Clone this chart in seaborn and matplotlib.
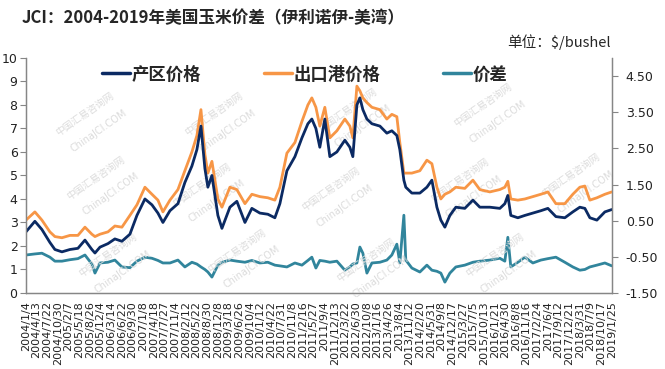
import matplotlib
matplotlib.use('Agg')
import matplotlib.pyplot as plt
import numpy as np
import pandas as pd
import seaborn as sns

# Values ($/bushel)
dates = [
    '2004-01-04', '2004-03-28', '2004-06-02', '2004-08-16', '2004-10-02', '2004-12-07',
    '2005-02-20', '2005-05-06', '2005-07-11', '2005-09-14', '2005-10-13', '2005-11-29',
    '2006-02-12', '2006-04-18', '2006-06-23', '2006-09-06', '2006-11-11', '2007-01-25',
    '2007-04-01', '2007-05-27', '2007-07-13', '2007-09-17', '2007-12-01', '2008-02-04',
    '2008-04-10', '2008-05-27', '2008-07-04', '2008-08-10', '2008-09-07', '2008-10-15',
    '2008-12-10', '2009-01-17', '2009-04-02', '2009-06-06', '2009-08-21', '2009-10-25',
    '2010-01-08', '2010-03-24', '2010-05-29', '2010-07-15', '2010-09-19', '2010-12-03',
    '2011-02-07', '2011-04-04', '2011-05-11', '2011-06-18', '2011-07-25', '2011-09-10',
    '2011-10-27', '2012-01-01', '2012-03-16', '2012-05-02', '2012-05-30', '2012-07-07',
    '2012-08-04', '2012-09-01', '2012-10-09', '2012-11-25', '2013-02-08', '2013-04-14',
    '2013-05-31', '2013-07-17', '2013-08-14', '2013-09-21', '2013-10-09', '2013-12-05',
    '2014-02-18', '2014-04-25', '2014-06-11', '2014-07-28', '2014-09-03', '2014-10-11',
    '2014-11-27', '2015-01-22', '2015-04-16', '2015-07-01', '2015-09-04', '2015-12-07',
    '2016-03-10', '2016-04-26', '2016-05-24', '2016-06-21', '2016-08-26', '2016-10-31',
    '2017-01-14', '2017-03-30', '2017-06-04', '2017-08-18', '2017-11-10', '2018-01-24',
    '2018-03-31', '2018-05-17', '2018-07-03', '2018-09-07', '2018-11-21', '2019-01-25',
]

origin_price = [
    2.60, 3.05, 2.70, 2.15, 1.85, 1.75, 1.85, 1.90, 2.25, 1.85, 1.70, 1.95,
    2.10, 2.30, 2.20, 2.50, 3.30, 4.00, 3.75, 3.40, 3.00, 3.50, 3.80, 4.70,
    5.40, 6.10, 7.10, 5.30, 4.50, 5.00, 3.30, 2.75, 3.65, 3.90, 3.00, 3.60,
    3.40, 3.35, 3.20, 3.80, 5.20, 5.80, 6.60, 7.20, 7.40, 7.00, 6.20, 7.40,
    5.80, 6.00, 6.50, 6.20, 5.80, 8.00, 8.30, 7.80, 7.40, 7.20, 7.10, 6.80,
    6.90, 6.70, 6.10, 4.80, 4.50, 4.25, 4.25, 4.50, 4.80, 3.65, 3.10, 2.80,
    3.30, 3.65, 3.60, 3.95, 3.65, 3.65, 3.60, 3.80, 4.15, 3.30, 3.20, 3.30,
    3.40, 3.50, 3.60, 3.25, 3.20, 3.45, 3.65, 3.60, 3.20, 3.10, 3.45, 3.55,
]

port_price = [
    3.10, 3.45, 3.10, 2.60, 2.40, 2.35, 2.45, 2.45, 2.80, 2.50, 2.40, 2.50,
    2.60, 2.85, 2.80, 3.30, 3.75, 4.50, 4.20, 3.95, 3.45, 3.95, 4.40, 5.20,
    6.00, 6.70, 7.80, 5.90, 5.10, 5.60, 4.00, 3.65, 4.50, 4.40, 3.80, 4.20,
    4.10, 4.05, 3.95, 4.50, 5.95, 6.40, 7.30, 8.00, 8.30, 7.90, 7.10, 7.90,
    6.60, 6.90, 7.40, 7.10, 6.60, 8.80, 8.60, 8.30, 8.10, 7.90, 7.80, 7.40,
    7.60, 7.50, 6.40, 5.10, 5.10, 5.10, 5.20, 5.65, 5.50, 4.50, 4.00, 4.20,
    4.30, 4.50, 4.45, 4.80, 4.40, 4.30, 4.40, 4.50, 4.75, 4.00, 3.95, 4.00,
    4.10, 4.20, 4.30, 3.80, 3.80, 4.20, 4.50, 4.55, 3.95, 4.05, 4.20, 4.30,
]

spread = [
    -0.45, -0.42, -0.40, -0.51, -0.62, -0.62, -0.58, -0.55, -0.45, -0.70, -0.95, -0.67,
    -0.65, -0.59, -0.78, -0.80, -0.62, -0.51, -0.54, -0.60, -0.67, -0.67, -0.59, -0.78,
    -0.65, -0.70, -0.78, -0.85, -0.92, -1.06, -0.73, -0.65, -0.59, -0.62, -0.65, -0.60,
    -0.67, -0.65, -0.73, -0.75, -0.78, -0.67, -0.73, -0.60, -0.51, -0.81, -0.60, -0.62,
    -0.65, -0.62, -0.87, -0.78, -0.70, -0.67, -0.23, -0.40, -0.95, -0.67, -0.65, -0.59,
    -0.45, -0.15, -0.67, 0.65, -0.59, -0.81, -0.92, -0.73, -0.87, -0.90, -0.95, -1.20,
    -0.95, -0.78, -0.73, -0.65, -0.62, -0.59, -0.54, -0.62, 0.04, -0.78, -0.65, -0.51,
    -0.67, -0.59, -0.55, -0.51, -0.65, -0.78, -0.87, -0.85, -0.78, -0.73, -0.67, -0.75,
]

tick_labels = [
    '2004/1/4', '2004/4/13', '2004/7/22', '2004/10/30', '2005/2/7', '2005/5/18',
    '2005/8/26', '2005/12/4', '2006/3/14', '2006/6/22', '2006/9/30', '2007/1/8',
    '2007/4/18', '2007/7/27', '2007/11/4', '2008/2/12', '2008/5/22', '2008/8/30',
    '2008/12/8', '2009/3/18', '2009/6/26', '2009/10/4', '2010/1/12', '2010/4/22',
    '2010/7/31', '2010/11/8', '2011/2/16', '2011/5/27', '2011/9/4', '2011/12/13',
    '2012/3/22', '2012/6/30', '2012/10/8', '2013/1/16', '2013/4/26', '2013/8/4',
    '2013/11/12', '2014/2/20', '2014/5/31', '2014/9/8', '2014/12/17', '2015/3/27',
    '2015/7/5', '2015/10/13', '2016/1/21', '2016/4/30', '2016/8/8', '2016/11/16',
    '2017/2/24', '2017/6/4', '2017/9/12', '2017/12/21', '2018/3/31', '2018/7/9',
    '2018/10/17', '2019/1/25',
]

series_names = ['产区价格', '出口港价格', '价差']
colors = ['#0b2a63', '#f79646', '#31859c']

df = pd.DataFrame({
    'date': pd.to_datetime(dates),
    'origin': origin_price,
    'port': port_price,
    'spread': spread,
})

sns.set_style('white')
plt.rcParams['font.family'] = ['DejaVu Sans', 'Noto Sans CJK SC']
cjk = ['Noto Sans CJK SC', 'DejaVu Sans']

fig = plt.figure(figsize=(6.65, 3.69), dpi=100)
ax = fig.add_axes([0.039, 0.206, 0.881, 0.637])
ax2 = ax.twinx()

# faint watermark of the source
wm_pos = [(0.10, 0.72), (0.32, 0.72), (0.55, 0.74), (0.78, 0.76),
          (0.12, 0.45), (0.30, 0.42), (0.52, 0.40), (0.74, 0.44), (0.93, 0.46),
          (0.14, 0.12), (0.36, 0.14), (0.58, 0.10), (0.80, 0.12)]
for (wx, wy) in wm_pos:
    ax.text(wx, wy + 0.04, '中国汇易咨询网', transform=ax.transAxes, rotation=35,
            fontsize=7, color='#dcdcdc', family=cjk, ha='center', va='center', zorder=0)
    ax.text(wx + 0.025, wy - 0.03, 'ChinaJCI.COM', transform=ax.transAxes, rotation=35,
            fontsize=7, color='#dcdcdc', ha='center', va='center', zorder=0)

sns.lineplot(data=df, x='date', y='spread', ax=ax2, color=colors[2], linewidth=2.0,
             legend=False)
sns.lineplot(data=df, x='date', y='port', ax=ax, color=colors[1], linewidth=2.0,
             legend=False)
sns.lineplot(data=df, x='date', y='origin', ax=ax, color=colors[0], linewidth=2.0,
             legend=False)

ax.set_zorder(ax2.get_zorder() + 1)
ax.patch.set_visible(False)

ax.set_xlim(pd.Timestamp('2004-01-04'), pd.Timestamp('2019-01-25'))
ax.set_ylim(0, 10)
ax.set_yticks(range(0, 11))
ax2.set_ylim(-1.5, 5.0)
ax2.set_yticks(np.arange(-1.5, 4.6, 1.0))
ax2.set_yticklabels([f'{v:.2f}' for v in np.arange(-1.5, 4.6, 1.0)])

ax.set_xticks(pd.to_datetime(tick_labels, format='%Y/%m/%d'))
ax.set_xticklabels(tick_labels, rotation=90, fontsize=8, va='top', ha='center')
ax.set_xlabel('')
ax.set_ylabel('')
ax2.set_ylabel('')

for a in (ax, ax2):
    a.spines['top'].set_visible(False)
    for s in ('left', 'right', 'bottom'):
        a.spines[s].set_color('#868686')
        a.spines[s].set_linewidth(0.9)
    a.grid(False)
ax.tick_params(axis='y', direction='out', length=4, color='#868686', labelsize=9,
               pad=2, labelcolor='#222222')
ax.tick_params(axis='x', direction='out', length=4, color='#868686', pad=2,
               labelcolor='#222222')
ax2.tick_params(axis='y', direction='out', length=4, color='#868686', labelsize=9,
                pad=6, labelcolor='#222222')

handles = [plt.Line2D([], [], color=c, linewidth=2.5) for c in colors]
ax.legend(handles, series_names, loc='center', bbox_to_anchor=(0.476, 0.93), ncol=3,
          frameon=False, handlelength=1.6, handletextpad=0.1, columnspacing=3.6,
          prop={'family': cjk, 'size': 12.5, 'weight': 'bold'})

fig.text(0.033, 0.95, 'JCI：2004-2019年美国玉米价差（伊利诺伊-美湾）', family=cjk,
         fontsize=12, fontweight='bold', ha='left', va='center')
fig.text(0.918, 0.885, '单位：$/bushel', family=cjk, fontsize=10.5,
         ha='right', va='center')

fig.savefig('out.png', dpi=100)
